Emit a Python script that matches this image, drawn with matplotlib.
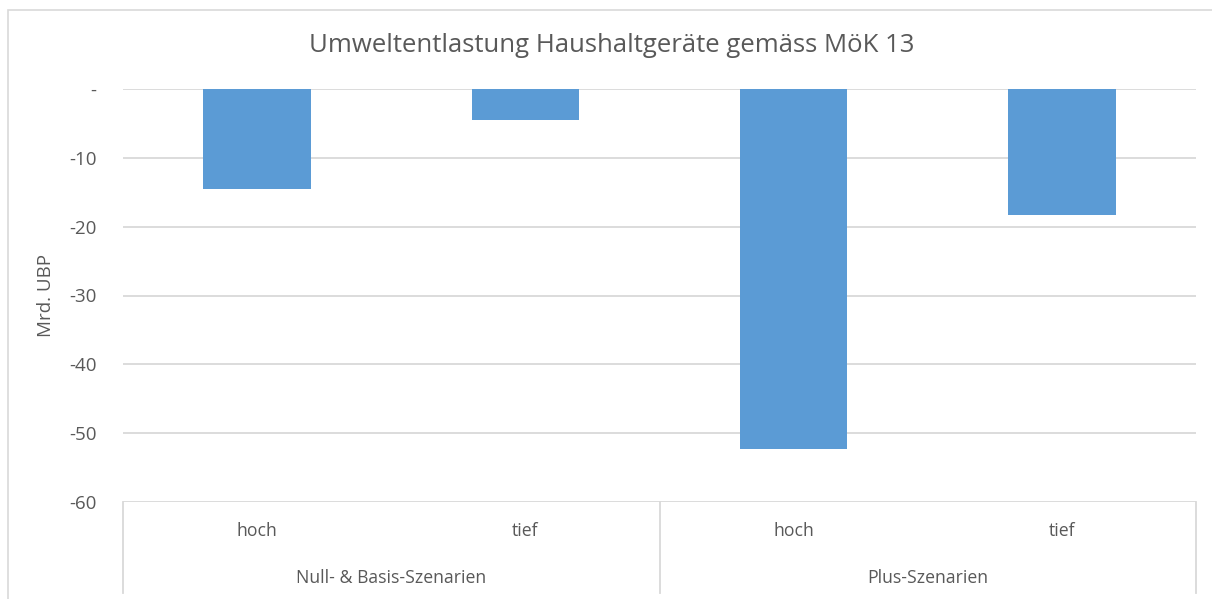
import matplotlib.pyplot as plt
from matplotlib.patches import Rectangle

# data
groups = ["Null- & Basis-Szenarien", "Plus-Szenarien"]
levels = ["hoch", "tief", "hoch", "tief"]
values = [-14.6, -4.45, -52.3, -18.3]
yticks = [0, -10, -20, -30, -40, -50, -60]
ytick_labels = ["-", "-10", "-20", "-30", "-40", "-50", "-60"]

grey = "#595959"
grid = "#d9d9d9"
blue = "#5b9bd5"
plt.rcParams["font.family"] = ["Open Sans", "DejaVu Sans"]

W, H = 1212, 599
fig = plt.figure(figsize=(W / 100, H / 100), dpi=100)
ax = fig.add_axes([123 / W, 1 - 502 / H, (1196 - 123) / W, (502 - 89) / H])

# outer chart border
fig.patches.append(Rectangle((8 / W, -0.1), 1.2, 1.1 - 10 / H, transform=fig.transFigure,
                             fill=False, edgecolor=grid, linewidth=1.2))

x = list(range(len(values)))
ax.bar(x, values, width=0.4, color=blue, zorder=3)
ax.set_xlim(-0.5, len(values) - 0.5)
ax.set_ylim(-60, 0)
ax.set_yticks(yticks)
ax.set_yticklabels(ytick_labels)
ax.tick_params(axis="y", length=0, pad=19, labelsize=13.5, labelcolor=grey)
ax.set_xticks([])
ax.yaxis.grid(True, color=grid, linewidth=1.3)
for s in ax.spines.values():
    s.set_visible(False)
ax.set_ylabel("Mrd. UBP", fontsize=13.5, color=grey, labelpad=10)

# multi-level category axis
box_bottom = -(593 - 502) / (502 - 89)
tr = ax.get_xaxis_transform()
for xv in [-0.5, 1.5, 3.5]:
    ax.plot([xv, xv], [0, box_bottom], transform=tr, color=grid, linewidth=1.3, clip_on=False)
for xi, lab in zip(x, levels):
    ax.text(xi, -(531 - 502) / 413, lab, transform=tr, ha="center", va="center",
            fontsize=12.7, color=grey)
for gi, g in enumerate(groups):
    ax.text(gi * 2 + 0.5, -(578 - 502) / 413, g, transform=tr, ha="center", va="center",
            fontsize=12.7, color=grey)

fig.text(612 / W, 1 - 45 / H, "Umweltentlastung Haushaltgeräte gemäss MöK 13",
         ha="center", va="center", fontsize=18.5, color=grey)

fig.savefig("out.png", dpi=100, facecolor="white")
